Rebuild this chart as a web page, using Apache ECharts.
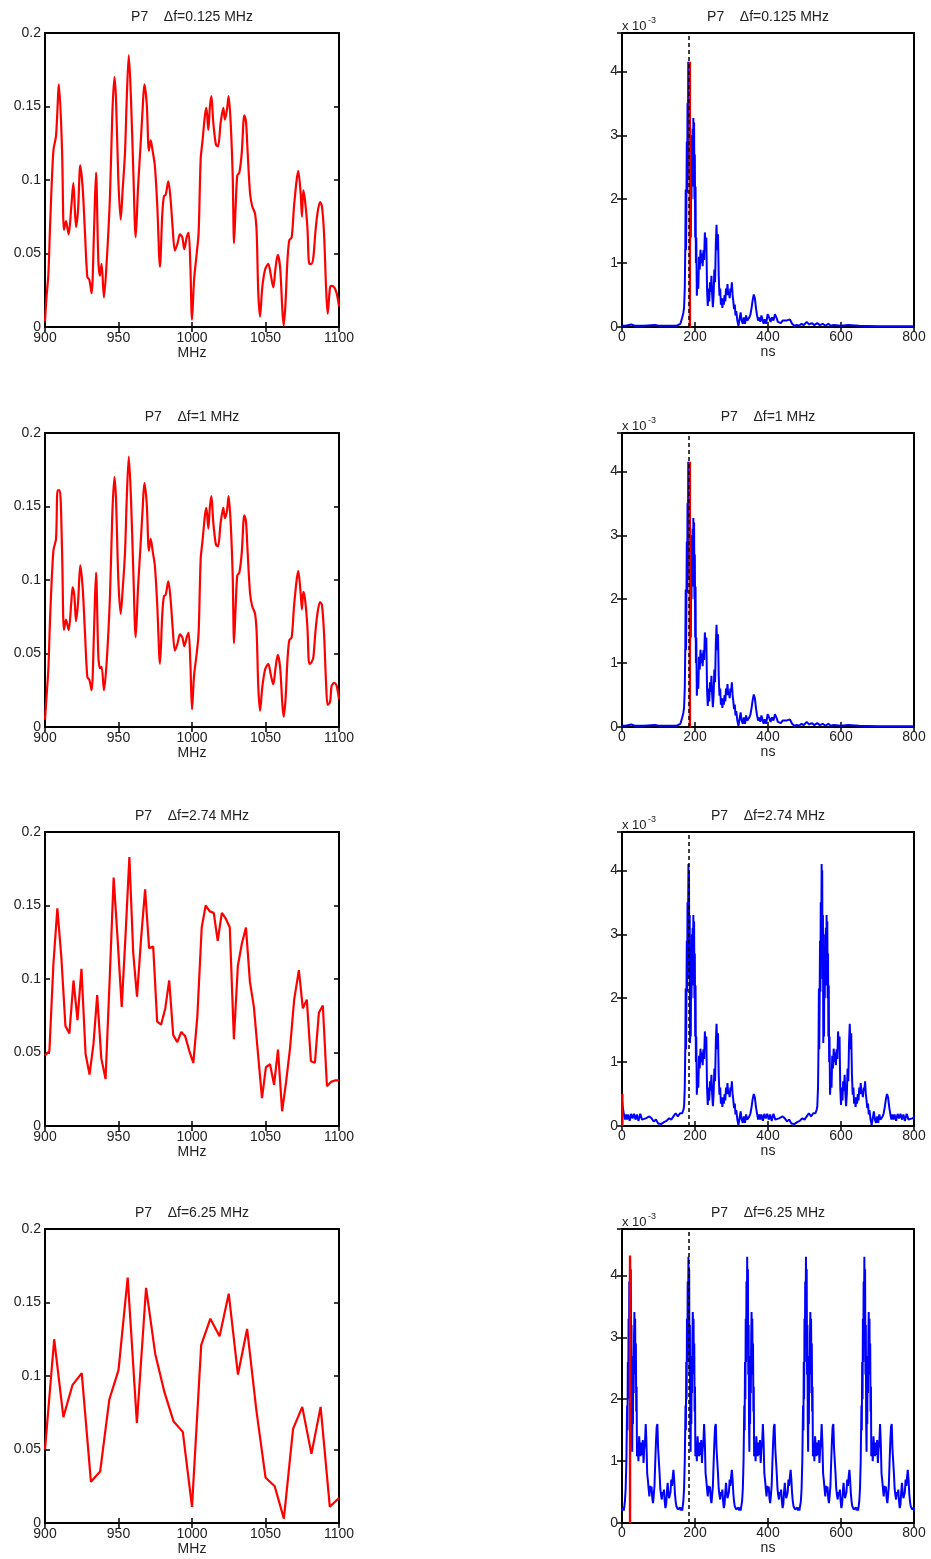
<!DOCTYPE html>
<html>
<head>
<meta charset="utf-8">
<script src="https://cdn.jsdelivr.net/npm/echarts@6/dist/echarts.min.js"></script>
<style>
  html, body { margin: 0; padding: 0; background: #fff; }
  #main { width: 931px; height: 1559px; }
</style>
</head>
<body>
<div id="main"></div>
<script>
var titles = ['P7    \u0394f=0.125 MHz', 'P7    \u0394f=1 MHz', 'P7    \u0394f=2.74 MHz', 'P7    \u0394f=6.25 MHz'];

// left column: frequency response magnitude, [MHz, value]
var freq0125 = [[900,0.004],[901,0.02],[902.3,0.036],[903.5,0.07],[905.7,0.12],[907.5,0.13],[909.5,0.165],[911.6,0.12],[912.9,0.066],[914.3,0.072],[916.1,0.063],[917.9,0.082],[919.3,0.098],[921.1,0.068],[922.5,0.08],[924,0.11],[925.6,0.095],[927.2,0.064],[928.8,0.034],[930.2,0.032],[931.7,0.023],[933.3,0.064],[934.7,0.105],[936.3,0.045],[937.4,0.035],[938.5,0.043],[940.1,0.02],[942,0.045],[944.2,0.089],[945.8,0.145],[947.2,0.17],[948.3,0.155],[949.9,0.1],[951.5,0.073],[952.8,0.093],[954.4,0.118],[955.6,0.155],[957,0.185],[958.5,0.155],[960.1,0.105],[961.7,0.061],[963.3,0.095],[965.1,0.125],[966.4,0.148],[967.6,0.165],[969.2,0.152],[970.7,0.12],[971.9,0.127],[973.2,0.12],[974.8,0.109],[976.4,0.082],[978.2,0.041],[979.8,0.077],[980.9,0.089],[982.1,0.09],[983.9,0.099],[985.5,0.086],[986.8,0.068],[988.4,0.052],[990.2,0.057],[991.8,0.063],[993.4,0.061],[994.8,0.053],[996.4,0.061],[997.7,0.064],[998.9,0.041],[1000,0.005],[1001.4,0.032],[1003.2,0.05],[1004.5,0.064],[1005.9,0.114],[1007.3,0.128],[1008.8,0.144],[1009.8,0.149],[1011.1,0.134],[1012.2,0.15],[1013.2,0.157],[1014.5,0.139],[1016.3,0.124],[1017.7,0.123],[1019.5,0.139],[1021.3,0.149],[1022.4,0.141],[1023.8,0.148],[1024.9,0.157],[1026.3,0.139],[1027.7,0.102],[1028.6,0.057],[1029.7,0.082],[1030.8,0.103],[1032.2,0.105],[1033.8,0.118],[1035.6,0.144],[1036.7,0.14],[1037.9,0.118],[1039.5,0.091],[1041,0.082],[1042.9,0.077],[1044,0.064],[1045.1,0.023],[1046.3,0.007],[1047.8,0.027],[1049.7,0.039],[1051.9,0.043],[1053.5,0.036],[1055.3,0.027],[1056.7,0.039],[1058.3,0.049],[1059.9,0.041],[1061.5,0.011],[1062.4,0.001],[1063.7,0.018],[1064.9,0.045],[1066.2,0.059],[1067.8,0.061],[1069.4,0.082],[1071.2,0.1],[1072.3,0.106],[1073.9,0.091],[1074.8,0.075],[1075.7,0.093],[1076.9,0.086],[1078.5,0.068],[1079.8,0.043],[1081.2,0.043],[1082.5,0.047],[1083.9,0.064],[1085.3,0.077],[1087.1,0.085],[1088.4,0.082],[1089.8,0.064],[1091.2,0.027],[1092.3,0.009],[1093.9,0.027],[1095,0.028],[1096.8,0.027],[1098.4,0.023],[1100,0.014]];

var freq1 = [[900,0.005],[901,0.02],[902.3,0.04],[903.5,0.075],[905.7,0.12],[907.5,0.128],[908.6,0.161],[910,0.161],[911.6,0.12],[912.9,0.066],[914.3,0.073],[916.1,0.066],[917.9,0.085],[918.8,0.095],[920,0.089],[921.1,0.072],[922.5,0.085],[924,0.11],[925.6,0.095],[927.2,0.064],[928.8,0.034],[930.2,0.032],[931.7,0.025],[933.3,0.064],[934.7,0.105],[936.3,0.048],[937.4,0.04],[938.5,0.041],[940.1,0.025],[942,0.045],[944.2,0.089],[945.8,0.145],[947.2,0.17],[948.3,0.155],[949.9,0.1],[951.5,0.077],[952.8,0.093],[954.4,0.118],[955.6,0.155],[957,0.184],[958.5,0.155],[960.1,0.105],[961.7,0.061],[963.3,0.095],[965.1,0.125],[966.4,0.148],[967.6,0.166],[969.2,0.152],[970.7,0.12],[971.9,0.128],[973.2,0.12],[974.8,0.109],[976.4,0.082],[978.2,0.043],[979.8,0.077],[980.9,0.089],[982.1,0.09],[983.9,0.099],[985.5,0.086],[986.8,0.068],[988.4,0.052],[990.2,0.057],[991.8,0.063],[993.4,0.061],[994.8,0.055],[996.4,0.061],[997.7,0.064],[998.9,0.043],[1000,0.012],[1001.4,0.035],[1003.2,0.05],[1004.5,0.064],[1005.9,0.114],[1007.3,0.128],[1008.8,0.144],[1009.8,0.149],[1011.1,0.135],[1012.2,0.15],[1013.2,0.157],[1014.5,0.139],[1016.3,0.124],[1017.7,0.123],[1019.5,0.139],[1021.3,0.149],[1022.4,0.142],[1023.8,0.147],[1024.9,0.157],[1026.3,0.139],[1027.7,0.102],[1028.6,0.057],[1029.7,0.082],[1030.8,0.103],[1032.2,0.105],[1033.8,0.118],[1035.6,0.144],[1036.7,0.14],[1037.9,0.118],[1039.5,0.091],[1041,0.082],[1042.9,0.077],[1044,0.064],[1045.1,0.027],[1046.3,0.011],[1047.8,0.027],[1049.7,0.039],[1051.9,0.043],[1053.5,0.036],[1055.3,0.029],[1056.7,0.039],[1058.3,0.049],[1059.9,0.041],[1061.5,0.015],[1062.4,0.007],[1063.7,0.02],[1064.9,0.045],[1066.2,0.059],[1067.8,0.061],[1069.4,0.082],[1071.2,0.1],[1072.3,0.106],[1073.9,0.091],[1074.8,0.08],[1075.7,0.092],[1076.9,0.087],[1078.5,0.068],[1079.8,0.043],[1081.2,0.044],[1082.5,0.047],[1083.9,0.064],[1085.3,0.077],[1087.1,0.085],[1088.4,0.083],[1089.8,0.064],[1091.2,0.03],[1092.3,0.015],[1093.9,0.017],[1095,0.028],[1096.8,0.03],[1098.4,0.028],[1100,0.019]];

var freq274 = [[900,0.048],[903,0.051],[905.7,0.11],[908.4,0.148],[911.1,0.115],[913.9,0.068],[916.6,0.063],[919.4,0.099],[922.1,0.072],[924.8,0.107],[927.6,0.049],[930.3,0.035],[933,0.056],[935.5,0.089],[938.3,0.046],[941.2,0.032],[944,0.1],[946.7,0.169],[949.4,0.127],[952.2,0.081],[954.8,0.13],[957.4,0.183],[960,0.118],[962.6,0.088],[965.4,0.128],[968.1,0.161],[970.8,0.121],[973.6,0.122],[976.3,0.071],[979,0.069],[981.8,0.08],[984.5,0.099],[987.2,0.062],[990,0.057],[992.7,0.064],[995.4,0.061],[998.2,0.051],[1000.9,0.043],[1003.6,0.074],[1006.6,0.135],[1009.3,0.15],[1012.1,0.146],[1014.8,0.145],[1017.5,0.126],[1020.3,0.145],[1023,0.141],[1025.7,0.135],[1028.5,0.059],[1031.2,0.109],[1033.9,0.124],[1036.7,0.135],[1039.4,0.098],[1042.1,0.081],[1044.9,0.049],[1047.6,0.019],[1050.3,0.04],[1053.1,0.042],[1055.8,0.028],[1058.5,0.052],[1061.3,0.01],[1064,0.03],[1066.7,0.053],[1069.5,0.086],[1072.7,0.106],[1075.4,0.08],[1078.1,0.086],[1080.9,0.044],[1083.6,0.043],[1086.3,0.077],[1089,0.082],[1091.8,0.027],[1094.5,0.03],[1097.2,0.031],[1100,0.031]];

var freq625 = [[900,0.05],[906.25,0.125],[912.5,0.072],[918.75,0.094],[925,0.102],[931.25,0.028],[937.5,0.035],[943.75,0.084],[950,0.104],[956.25,0.167],[962.5,0.068],[968.75,0.16],[975,0.115],[981.25,0.089],[987.5,0.069],[993.75,0.062],[1000,0.011],[1006.25,0.121],[1012.5,0.139],[1018.75,0.127],[1025,0.156],[1031.25,0.101],[1037.5,0.132],[1043.75,0.077],[1050,0.031],[1056.25,0.025],[1062.5,0.003],[1068.75,0.064],[1075,0.079],[1081.25,0.047],[1087.5,0.079],[1093.75,0.011],[1100,0.017]];

// right column: impulse response (x 1e-3), [ns, value]
var imp0125 = [[0,0.02],[10,0.02],[25,0.04],[35,0.02],[60,0.02],[90,0.03],[100,0.02],[150,0.02],[160,0.05],[165,0.15],[168,0.22],[170,0.3],[172,0.6],[173.5,1.3],[174.5,2.15],[175.5,1.2],[176.5,2.0],[177.5,2.9],[178.5,2.1],[179.5,3.5],[180.5,2.7],[181.5,4.15],[182.5,3.1],[183.5,4.0],[184.5,2.3],[185.5,3.3],[186.5,1.3],[187.5,2.5],[188.5,1.4],[189.5,2.8],[190.5,2.0],[191.5,3.0],[192.5,2.3],[193.5,3.1],[194.5,2.2],[195.5,3.27],[196.5,2.4],[197.5,3.2],[198.5,2.0],[199.5,2.7],[200.5,1.4],[201.5,2.2],[202.5,1.0],[203.5,1.4],[205,0.49],[207,0.8],[209,0.6],[211,1.1],[213,0.9],[215,1.21],[217,1.0],[219,1.15],[221,0.95],[223,1.2],[225,1.05],[227,1.48],[229,1.2],[231,1.4],[233,0.6],[235,0.33],[237,0.6],[239,0.4],[241,0.7],[243,0.55],[245,0.8],[247,0.5],[249,0.31],[251,0.5],[253,0.9],[255,0.7],[257,1.3],[259,1.6],[261,1.2],[263,1.45],[265,0.8],[267,0.49],[269,0.6],[271,0.35],[273,0.45],[275,0.3],[277,0.45],[279,0.35],[281,0.5],[283,0.4],[285,0.6],[287,0.5],[289,0.67],[291,0.5],[293,0.55],[295,0.45],[297,0.6],[299,0.55],[301,0.7],[303,0.5],[305,0.4],[307,0.28],[309,0.35],[311,0.18],[313,0.25],[316,0.1],[319,0.02],[322,0.12],[325,0.23],[328,0.1],[331,0.05],[334,0.15],[337,0.05],[340,0.18],[343,0.1],[346,0.07],[349,0.15],[352,0.2],[355,0.3],[358,0.42],[361,0.51],[364,0.45],[367,0.3],[370,0.18],[373,0.1],[376,0.15],[379,0.08],[382,0.18],[385,0.15],[388,0.05],[391,0.12],[395,0.05],[399,0.2],[403,0.15],[407,0.08],[411,0.15],[415,0.1],[419,0.2],[423,0.15],[427,0.08],[431,0.1],[435,0.06],[440,0.1],[445,0.08],[450,0.1],[455,0.07],[460,0.12],[466,0.05],[472,0.02],[479,0.03],[485,0.02],[492,0.05],[498,0.03],[506,0.08],[513,0.04],[520,0.06],[527,0.03],[535,0.06],[542,0.03],[550,0.05],[558,0.02],[565,0.05],[572,0.02],[580,0.03],[600,0.02],[620,0.03],[650,0.02],[700,0.01],[800,0.01]];
// the 1 MHz response is identical to the 0.125 MHz one in the picture
var imp1 = imp0125;

// aliased responses: one period, offsets in ns from the main peak
var period274 = [[-17,0.2],[-14,0.25],[-12,0.3],[-10,0.6],[-8.5,1.3],[-7.5,2.15],[-6.5,1.2],[-5.5,2.0],[-4.5,2.9],[-3.5,2.1],[-2.5,3.5],[-1.5,2.7],[0,4.1],[0.5,3.1],[1.5,4.0],[2.5,2.3],[3.5,3.3],[4.5,1.3],[5.5,2.5],[6.5,1.4],[7.5,2.8],[8.5,2.0],[9.5,3.0],[10.5,2.3],[11.5,3.1],[12.5,2.2],[13.5,3.3],[14.5,2.4],[15.5,3.2],[16.5,2.0],[17.5,2.7],[18.5,1.4],[19.5,2.2],[20.5,1.0],[21.5,1.4],[23,0.49],[25,0.8],[27,0.6],[29,1.1],[31,0.9],[33,1.21],[35,1.0],[37,1.15],[39,0.95],[41,1.2],[43,1.05],[45,1.48],[47,1.2],[49,1.4],[51,0.6],[53,0.33],[55,0.6],[57,0.4],[59,0.7],[61,0.55],[63,0.8],[65,0.5],[67,0.31],[69,0.5],[71,0.9],[73,0.7],[75,1.3],[77,1.6],[79,1.2],[81,1.45],[83,0.8],[85,0.49],[87,0.6],[89,0.35],[91,0.45],[93,0.3],[95,0.45],[97,0.35],[99,0.5],[101,0.4],[103,0.6],[105,0.5],[107,0.67],[109,0.5],[111,0.55],[113,0.45],[115,0.6],[117,0.55],[119,0.7],[121,0.5],[123,0.4],[125,0.28],[127,0.35],[129,0.18],[131,0.25],[134,0.1],[137,0.02],[140,0.12],[143,0.23],[146,0.1],[149,0.05],[152,0.15],[155,0.05],[158,0.18],[161,0.1],[164,0.07],[167,0.15],[170,0.2],[173,0.3],[176,0.42],[179,0.5],[182,0.45],[185,0.3],[188,0.19],[191,0.1],[194,0.18],[197,0.1],[200,0.18],[204,0.08],[208,0.19],[212,0.12],[216,0.19],[220,0.1],[224,0.18],[228,0.08],[233,0.19],[238,0.1],[243,0.08],[248,0.12],[253,0.1],[258,0.15],[264,0.12],[270,0.07],[276,0.1],[282,0.04],[290,0.03],[298,0.06],[305,0.08],[312,0.12],[318,0.1],[324,0.15],[330,0.2],[336,0.15],[342,0.2],[348,0.2]];
var peaks274 = [-183, 182, 547];

var period625 = [[-17,0.2],[-14,0.35],[-12,0.55],[-10,1.0],[-8,1.9],[-7,1.5],[-6,2.6],[-5,2.0],[-4,3.3],[-3,2.6],[-2,3.9],[-1,3.2],[0,4.3],[1,3.3],[2,4.1],[3,2.4],[4,3.2],[5,1.6],[6,1.15],[7,2.2],[8,1.6],[9,2.7],[10,2.1],[11,3.0],[12,3.41],[13,2.6],[14,3.3],[15,2.4],[16,2.9],[17,1.8],[18,2.2],[19,1.08],[21,1.3],[23,1.0],[25,1.4],[27,1.2],[29,1.08],[31,1.3],[33,1.1],[35,1.34],[37,0.97],[39,1.2],[41,1.3],[43,1.6],[45,1.3],[47,0.8],[49,0.69],[51,0.55],[53,0.43],[55,0.6],[57,0.5],[59,0.59],[61,0.4],[63,0.32],[65,0.45],[67,0.6],[69,0.97],[71,1.3],[73,1.55],[75,1.6],[77,1.2],[79,1.0],[81,0.8],[83,0.55],[85,0.45],[87,0.38],[89,0.5],[91,0.45],[93,0.54],[95,0.35],[97,0.24],[99,0.3],[101,0.5],[103,0.65],[105,0.5],[107,0.4],[109,0.38],[111,0.5],[113,0.7],[115,0.6],[117,0.75],[119,0.86],[121,0.7],[123,0.48],[125,0.35],[127,0.27],[129,0.3],[131,0.22],[133,0.24],[135,0.2],[137,0.25],[139,0.2],[141,0.25],[143,0.2]];
var peaks625 = [-138, 22, 182, 343, 504, 664];

var dashTime = [182, 182, 183, 183];
var redTime = [186, 186, 1, 22];
var redHeight = [4.15, 4.15, 0.5, 4.32];
var rightMax = [4.6, 4.6, 4.6, 4.75];

function tile(period, peaks) {
  var out = [];
  peaks.forEach(function (p) {
    period.forEach(function (d) { out.push([p + d[0], d[1]]); });
  });
  return out;
}

var leftData = [freq0125, freq1, freq274, freq625];
var rightData = [imp0125, imp1, tile(period274, peaks274), tile(period625, peaks625)];
var rowTop = [33, 433, 832, 1229];

var FONT = 'Liberation Sans';
var TXT = '#222';

var grids = [], xAxes = [], yAxes = [], series = [], graphics = [];

function plain(v) { return String(v); }

function axisPair(list, cfg, otherPos, extra) {
  var tick = { inside: true, length: 5, lineStyle: { color: '#000', width: 1.5 } };
  var main = Object.assign({
    type: 'value', axisLine: { show: false }, axisTick: tick, splitLine: { show: false }
  }, cfg, extra);
  var other = Object.assign({
    type: 'value', axisLine: { show: false }, axisTick: tick, splitLine: { show: false },
    axisLabel: { show: false }
  }, cfg, { position: otherPos });
  list.push(main, other);
}

function label(margin, showMax) {
  return { color: TXT, fontSize: 14, fontFamily: FONT, margin: margin, formatter: plain, showMaxLabel: showMax };
}
var nameStyle = { color: TXT, fontSize: 14, fontFamily: FONT };

for (var i = 0; i < 4; i++) {
  var g = i * 2;
  grids.push({ left: 45, top: rowTop[i], width: 294, height: 294, show: true, borderColor: '#000', borderWidth: 2 });
  grids.push({ left: 622, top: rowTop[i], width: 292, height: 294, show: true, borderColor: '#000', borderWidth: 2 });

  // left panel axes
  axisPair(xAxes, { gridIndex: g, min: 900, max: 1100, interval: 50 }, 'top',
    { position: 'bottom', name: 'MHz', nameLocation: 'middle', nameGap: 18, nameTextStyle: nameStyle, axisLabel: label(4, true) });
  axisPair(yAxes, { gridIndex: g, min: 0, max: 0.2, interval: 0.05 }, 'right',
    { position: 'left', axisLabel: label(4, true) });
  // right panel axes
  axisPair(xAxes, { gridIndex: g + 1, min: 0, max: 800, interval: 200 }, 'top',
    { position: 'bottom', name: 'ns', nameLocation: 'middle', nameGap: 14, nameTextStyle: nameStyle, axisLabel: label(3, true) });
  axisPair(yAxes, { gridIndex: g + 1, min: 0, max: rightMax[i], interval: 1 }, 'right',
    { position: 'left', axisLabel: label(4, false) });

  var li = g * 2, ri = (g + 1) * 2;
  series.push({
    type: 'line', xAxisIndex: li, yAxisIndex: li, data: leftData[i],
    symbol: 'none', smooth: i < 2 ? 0.3 : false,
    lineStyle: { color: '#ff0000', width: 2.2 }
  });
  series.push({
    type: 'line', xAxisIndex: ri, yAxisIndex: ri, data: rightData[i],
    symbol: 'none', lineStyle: { color: '#0000ff', width: 2 },
    markLine: {
      silent: true, symbol: 'none', label: { show: false }, animation: false,
      lineStyle: { color: '#000', type: [4, 3], width: 1.5 },
      data: [{ xAxis: dashTime[i] }]
    }
  });
  series.push({
    type: 'line', xAxisIndex: ri, yAxisIndex: ri, z: 3,
    data: [[redTime[i], 0], [redTime[i], redHeight[i]]],
    symbol: 'none', lineStyle: { color: '#ee0000', width: 2.4 }
  });

  graphics.push({ type: 'text', x: 192, y: rowTop[i] - 16,
    style: { text: titles[i], fill: TXT, font: '14px "' + FONT + '"', textAlign: 'center', textVerticalAlign: 'middle' } });
  graphics.push({ type: 'text', x: 768, y: rowTop[i] - 16,
    style: { text: titles[i], fill: TXT, font: '14px "' + FONT + '"', textAlign: 'center', textVerticalAlign: 'middle' } });
  graphics.push({ type: 'text', x: 622, y: rowTop[i] - 7,
    style: { text: 'x 10', fill: TXT, font: '13px "' + FONT + '"', textVerticalAlign: 'middle' } });
  graphics.push({ type: 'text', x: 648, y: rowTop[i] - 12,
    style: { text: '-3', fill: TXT, font: '9px "' + FONT + '"', textVerticalAlign: 'middle' } });
}

var chart = echarts.init(document.getElementById('main'));
chart.setOption({
  animation: false,
  backgroundColor: '#fff',
  grid: grids,
  xAxis: xAxes,
  yAxis: yAxes,
  series: series,
  graphic: graphics
});
</script>
</body>
</html>
